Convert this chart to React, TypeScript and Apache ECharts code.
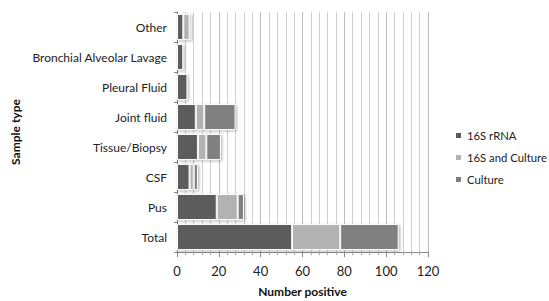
import React, { useEffect, useRef } from "react";
import * as echarts from "echarts";

const categories = ["Total", "Pus", "CSF", "Tissue/Biopsy", "Joint fluid", "Pleural Fluid", "Bronchial Alveolar Lavage", "Other"];
const rrna16S = [55, 19, 6, 10, 9, 5, 3, 3];
const both16SCulture = [23, 10, 2, 4, 4, 0, 0, 3];
const culture = [28, 3, 2, 7, 15, 0, 0, 1];
const seriesNames = ["16S rRNA", "16S and Culture", "Culture"];
const colors = ["#5b5b5b", "#b2b2b2", "#808080"];

const FONT = "Lato";

export default function App() {
  const ref = useRef<HTMLDivElement>(null);
  useEffect(() => {
    const chart = echarts.init(ref.current!, null, { renderer: "svg" });
    const data = [rrna16S, both16SCulture, culture];
    chart.setOption({
      animation: false,
      textStyle: { fontFamily: FONT },
      grid: { left: 177, right: 121, top: 12, bottom: 49, containLabel: false, outerBoundsMode: "none" },
      legend: {
        orient: "vertical",
        left: 454,
        top: 130,
        padding: 0,
        itemWidth: 7,
        itemHeight: 7,
        itemGap: 11,
        icon: "rect",
        textStyle: { fontFamily: FONT, fontSize: 11.3, color: "#222" },
        data: seriesNames,
      },
      xAxis: {
        type: "value",
        min: 0,
        max: 120,
        interval: 20,
        name: "Number positive",
        nameLocation: "middle",
        nameGap: 33,
        nameTextStyle: { fontFamily: FONT, fontSize: 12, fontWeight: "bold", color: "#111" },
        axisLine: { show: true, lineStyle: { color: "#888" } },
        axisTick: { show: true, lineStyle: { color: "#888" } },
        axisLabel: { fontFamily: FONT, fontSize: 13, color: "#222", margin: 12 },
        splitLine: { show: true, lineStyle: { color: "#bdbdbd", width: 1 } },
        minorTick: { show: true, splitNumber: 5, length: 3, lineStyle: { color: "#aaa" } },
        minorSplitLine: { show: true, lineStyle: { color: "#cfcfcf", width: 1 } },
      },
      yAxis: {
        type: "category",
        data: categories,
        name: "Sample type",
        nameLocation: "middle",
        nameGap: 156,
        nameRotate: 90,
        nameTextStyle: { fontFamily: FONT, fontSize: 12, fontWeight: "bold", color: "#111" },
        axisLine: { show: true, lineStyle: { color: "#777", width: 1 } },
        axisTick: { show: true, length: 3, lineStyle: { color: "#888" } },
        axisLabel: { fontFamily: FONT, fontSize: 12, color: "#222", margin: 10 },
      },
      series: seriesNames.map((name, i) => ({
        name,
        type: "bar",
        stack: "total",
        barCategoryGap: "13%",
        data: data[i],
        itemStyle: {
          color: colors[i],
          borderColor: "#ffffff",
          borderWidth: 1,
          shadowBlur: 3,
          shadowColor: "rgba(0,0,0,0.35)",
          shadowOffsetX: 1,
          shadowOffsetY: 1,
        },
      })),
    });
    return () => chart.dispose();
  }, []);
  return <div ref={ref} style={{ width: 549, height: 301, position: "absolute", left: 0, top: 0, background: "#fff" }} />;
}
